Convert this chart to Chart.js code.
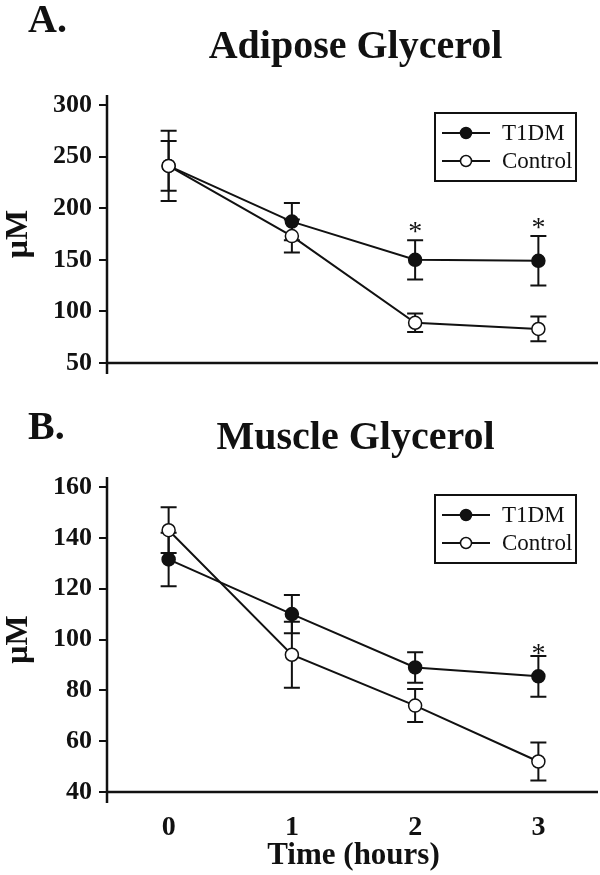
<!DOCTYPE html>
<html>
<head>
<meta charset="utf-8">
<script src="https://cdn.jsdelivr.net/npm/chart.js@4.4.1/dist/chart.umd.min.js"></script>
<style>
  html, body { margin: 0; padding: 0; background: #fff; }
  #page { position: relative; width: 600px; height: 875px; overflow: hidden; }
  canvas { position: absolute; left: 0; }
  #panelA { top: 0; }
  #panelB { top: 390px; }
</style>
</head>
<body>
<div id="page">
  <canvas id="panelA" width="600" height="390"></canvas>
  <canvas id="panelB" width="600" height="485"></canvas>
</div>
<script>
// Data
const timeLabels = ['0', '1', '2', '3'];
const seriesNames = ['T1DM', 'Control'];

const adiposeT1DM = [241, 187, 150, 149];
const adiposeT1DMErr = [24, 18, 19, 24];
const adiposeControl = [241, 173, 89, 83];
const adiposeControlErr = [34, 16, 9, 12];
const adiposeStars = [false, false, true, true];
const adiposeTicks = [50, 100, 150, 200, 250, 300];

const muscleT1DM = [131.5, 110, 89, 85.5];
const muscleT1DMErr = [10.5, 7.5, 6, 8];
const muscleControl = [143, 94, 74, 52];
const muscleControlErr = [9, 13, 6.5, 7.5];
const muscleStars = [false, false, false, true];
const muscleTicks = [40, 60, 80, 100, 120, 140, 160];

const INK = '#111';
const SERIF = '"Liberation Serif", "Times New Roman", serif';

// error bars, axes, title, legend and significance marks
const figureDecor = {
  id: 'figureDecor',
  beforeDatasetsDraw(chart, args, opts) {
    const ctx = chart.ctx;
    const y = chart.scales.y;
    ctx.save();
    ctx.strokeStyle = INK;
    ctx.lineWidth = 2;
    chart.data.datasets.forEach((ds, i) => {
      const meta = chart.getDatasetMeta(i);
      const errs = opts.errors[i];
      meta.data.forEach((pt, j) => {
        const top = y.getPixelForValue(ds.data[j] + errs[j]);
        const bot = y.getPixelForValue(ds.data[j] - errs[j]);
        ctx.beginPath();
        ctx.moveTo(pt.x, top); ctx.lineTo(pt.x, bot);
        ctx.moveTo(pt.x - 8, top); ctx.lineTo(pt.x + 8, top);
        ctx.moveTo(pt.x - 8, bot); ctx.lineTo(pt.x + 8, bot);
        ctx.stroke();
      });
    });
    ctx.restore();
  },
  afterDraw(chart, args, opts) {
    const ctx = chart.ctx;
    const area = chart.chartArea;
    const y = chart.scales.y;
    ctx.save();

    // axis lines
    ctx.strokeStyle = INK;
    ctx.lineWidth = 2.5;
    ctx.beginPath();
    ctx.moveTo(area.left, y.top - 10);
    ctx.lineTo(area.left, y.bottom + 11);
    ctx.moveTo(area.left, area.bottom);
    ctx.lineTo(area.right - 2, area.bottom);
    ctx.stroke();

    // panel letter and title
    ctx.fillStyle = INK;
    ctx.textBaseline = 'alphabetic';
    ctx.textAlign = 'left';
    ctx.font = 'bold 40px ' + SERIF;
    ctx.fillText(opts.letter, 28, opts.letterY);
    ctx.textAlign = 'center';
    ctx.font = 'bold 40px ' + SERIF;
    ctx.fillText(opts.title, (area.left + area.right) / 2 + 2, opts.titleY);

    // significance stars above T1DM
    ctx.font = '28px ' + SERIF;
    const t1 = chart.data.datasets[0];
    chart.getDatasetMeta(0).data.forEach((pt, j) => {
      if (!opts.stars[j]) return;
      const cap = y.getPixelForValue(t1.data[j] + opts.errors[0][j]);
      ctx.fillText('*', pt.x, cap + opts.starShift);
    });

    // legend box
    const bw = 141, bh = 68;
    const bx = area.right - 24 - bw, by = area.top + 8;
    ctx.lineWidth = 2;
    ctx.strokeRect(bx, by, bw, bh);
    ctx.textAlign = 'left';
    ctx.textBaseline = 'middle';
    ctx.font = '23px ' + SERIF;
    chart.data.datasets.forEach((ds, i) => {
      const ry = by + 20 + i * 28;
      ctx.lineWidth = 2;
      ctx.beginPath();
      ctx.moveTo(bx + 7, ry); ctx.lineTo(bx + 55, ry);
      ctx.stroke();
      ctx.beginPath();
      ctx.arc(bx + 31, ry, 5.5, 0, Math.PI * 2);
      ctx.fillStyle = ds.pointBackgroundColor;
      ctx.fill();
      ctx.lineWidth = 1.5;
      ctx.stroke();
      ctx.fillStyle = INK;
      ctx.fillText(ds.label, bx + 67, ry + 1);
    });
    ctx.restore();
  }
};

function makeDataset(label, values, fill, order) {
  return {
    label: label,
    data: values,
    order: order,
    borderColor: INK,
    borderWidth: 2,
    backgroundColor: fill,
    pointBackgroundColor: fill,
    pointBorderColor: INK,
    pointBorderWidth: 1.5,
    pointRadius: 6.5,
    tension: 0
  };
}

function buildPanel(canvasId, cfg) {
  const ctx = document.getElementById(canvasId).getContext('2d');
  return new Chart(ctx, {
    type: 'line',
    data: {
      labels: timeLabels,
      datasets: [
        makeDataset(seriesNames[0], cfg.t1dm, INK, 1),
        makeDataset(seriesNames[1], cfg.control, '#fff', 0)
      ]
    },
    options: {
      responsive: false,
      animation: false,
      devicePixelRatio: 1,
      layout: {
        autoPadding: false,
        padding: { top: cfg.padTop, left: 0, right: 0, bottom: 0 }
      },
      plugins: {
        legend: { display: false },
        tooltip: { enabled: false },
        figureDecor: {
          letter: cfg.letter,
          letterY: cfg.letterY,
          title: cfg.title,
          titleY: cfg.titleY,
          errors: [cfg.t1dmErr, cfg.controlErr],
          stars: cfg.stars,
          starShift: cfg.starShift
        }
      },
      scales: {
        x: {
          type: 'category',
          offset: true,
          grid: { display: false },
          border: { display: false },
          ticks: {
            display: cfg.showX,
            color: INK,
            padding: 11,
            font: { family: SERIF, size: 28, weight: 'bold' }
          },
          title: {
            display: cfg.showX,
            text: 'Time (hours)',
            color: INK,
            padding: 0,
            font: { family: SERIF, size: 31, weight: 'bold' }
          },
          afterFit: s => { s.height = cfg.xHeight; }
        },
        y: {
          min: cfg.ticks[0],
          max: cfg.ticks[cfg.ticks.length - 1],
          grid: {
            display: true,
            drawOnChartArea: false,
            drawTicks: true,
            tickLength: 8,
            color: INK,
            lineWidth: 2
          },
          border: { display: false },
          ticks: {
            stepSize: cfg.ticks[1] - cfg.ticks[0],
            color: INK,
            padding: 7,
            font: { family: SERIF, size: 26, weight: 'bold' }
          },
          title: {
            display: true,
            text: 'μM',
            color: INK,
            padding: 0,
            font: { family: SERIF, size: 32, weight: 'bold' }
          },
          afterFit: s => { s.width = 107; }
        }
      }
    },
    plugins: [figureDecor]
  });
}

buildPanel('panelA', {
  letter: 'A.', letterY: 32, title: 'Adipose Glycerol', titleY: 58,
  t1dm: adiposeT1DM, t1dmErr: adiposeT1DMErr,
  control: adiposeControl, controlErr: adiposeControlErr,
  stars: adiposeStars, starShift: 0, ticks: adiposeTicks,
  padTop: 105, xHeight: 27, showX: false
});

buildPanel('panelB', {
  letter: 'B.', letterY: 49, title: 'Muscle Glycerol', titleY: 59,
  t1dm: muscleT1DM, t1dmErr: muscleT1DMErr,
  control: muscleControl, controlErr: muscleControlErr,
  stars: muscleStars, starShift: 6, ticks: muscleTicks,
  padTop: 97, xHeight: 83, showX: true
});
</script>
</body>
</html>
